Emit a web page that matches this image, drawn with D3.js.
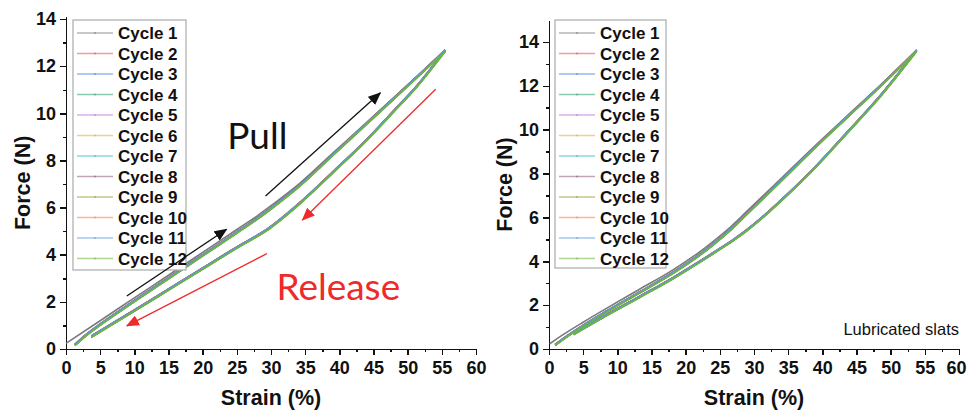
<!DOCTYPE html>
<meta charset="utf-8">
<style>
body { margin: 0; background: #fff; }
svg { font-family: "Liberation Sans", Arial, sans-serif; }
.axis path, .axis line { stroke: #111; stroke-width: 1.5; shape-rendering: crispEdges; }
.axis text { font-size: 18px; font-weight: bold; fill: #111; }
.title { font-size: 21.5px; font-weight: bold; fill: #111; text-anchor: middle; }
.legend text { font-size: 17px; font-weight: bold; fill: #111; }
.cycle { fill: none; stroke-width: 1.6; }
.note { font-family: Lato, "Open Sans", sans-serif; font-size: 37px; }
</style>
<body>
<script src="https://d3js.org/d3.v7.min.js"></script>
<script>

// ---- data ----
var cycles = ["Cycle 1","Cycle 2","Cycle 3","Cycle 4","Cycle 5","Cycle 6",
              "Cycle 7","Cycle 8","Cycle 9","Cycle 10","Cycle 11","Cycle 12"];
var cycleShift = [0, 0.03, -0.02, 0.01, 0.02, -0.01, 0, 0.03, -0.02, 0.01, 0.02, -0.03];

var xTicks = [0,5,10,15,20,25,30,35,40,45,50,55,60];
var yTicks = [0,2,4,6,8,10,12,14];

// left panel (with arrows)
var load1X_L = [0, 5, 10, 15, 20, 25, 28, 30, 34.2, 39, 44, 48, 51.3, 55.5];
var load1Y_L = [0.24, 1.2, 2.17, 3.13, 4.1, 5.07, 5.65, 6.08, 7.03, 8.3, 9.62, 10.68, 11.55, 12.66];
var loadNX_L = [1.3, 3, 5, 10, 15, 20, 25, 28, 30, 34.2, 39, 44, 48, 51.3, 55.5];
var loadNY_L = [0.17, 0.6, 1.03, 2.03, 3.0, 3.97, 4.94, 5.53, 5.96, 6.93, 8.22, 9.56, 10.63, 11.52, 12.66];
var unloadX_L = [3.7, 10, 15, 20, 25, 28, 29.4, 31.3, 34.2, 39, 44, 48, 51.3, 55.5];
var unloadY_L = [0.52, 1.63, 2.52, 3.41, 4.3, 4.8, 5.05, 5.47, 6.18, 7.48, 8.87, 10.1, 11.13, 12.66];

// right panel (lubricated slats)
var load1X_R = [0.1, 2.3, 5, 8.4, 13, 18.2, 22, 24, 26.5, 28.9, 33.8, 38.7, 43.6, 48.4, 53.8];
var load1Y_R = [0.24, 0.7, 1.22, 1.85, 2.68, 3.62, 4.42, 4.9, 5.55, 6.26, 7.72, 9.2, 10.62, 12.0, 13.6];
var loadNX_R = [0.9, 2.3, 5, 8.4, 13, 18.2, 22, 24, 26.5, 28.9, 33.8, 38.7, 43.6, 48.4, 53.8];
var loadNY_R = [0.18, 0.5, 1.06, 1.7, 2.53, 3.48, 4.28, 4.76, 5.42, 6.14, 7.62, 9.12, 10.56, 11.96, 13.6];
var unloadX_R = [3.6, 8, 13.3, 18, 22.1, 24, 27, 28.9, 31.8, 33.8, 38.7, 43.6, 48.4, 53.8];
var unloadY_R = [0.68, 1.47, 2.38, 3.2, 3.98, 4.36, 4.97, 5.4, 6.15, 6.72, 8.2, 9.85, 11.5, 13.6];

// arrows: [x1, y1, x2, y2] in strain / force units
var pullArrows = [[8.9, 2.25, 23.5, 5.08], [29.2, 6.49, 46.0, 10.87]];
var releaseArrows = [[54.1, 11.02, 34.6, 5.47], [29.4, 4.05, 8.9, 0.98]];

var colors = ["#7a7a7a","#e8474a","#3f7fd9","#2e9e6e","#c070d8","#d4b030",
              "#30b8d0","#8a5a78","#8c9a30","#f08040","#5a9ae0","#6ab83a"];

var svg = d3.select("body").append("svg")
    .attr("width", 967).attr("height", 411);

var defs = svg.append("defs");
[["headBlack","#111"],["headRed","#ee2a2a"]].forEach(function(m) {
    defs.append("marker")
        .attr("id", m[0])
        .attr("markerUnits", "userSpaceOnUse")
        .attr("markerWidth", 13).attr("markerHeight", 11)
        .attr("refX", 12).attr("refY", 5.5)
        .attr("orient", "auto")
      .append("path")
        .attr("d", "M0,0 L13,5.5 L0,11 z")
        .attr("fill", m[1]);
});

function zip(xs, ys, s) {
    return xs.map(function(x, i) { return {x: x, y: ys[i] + s}; });
}

function drawPanel(p) {
    var x = d3.scaleLinear().domain([0, 60]).range([p.left, p.right]);
    var y = d3.scaleLinear().domain([0, p.yMax]).range([349, p.top]);
    var g = svg.append("g");

    // minor ticks
    g.append("g").attr("class", "axis").attr("transform", "translate(0,349)")
        .call(d3.axisBottom(x).tickValues(d3.range(2.5, 60, 5)).tickSize(3).tickFormat(""))
        .select(".domain").remove();
    g.append("g").attr("class", "axis").attr("transform", "translate(" + p.left + ",0)")
        .call(d3.axisLeft(y).tickValues(d3.range(1, p.yMax, 2)).tickSize(3).tickFormat(""))
        .select(".domain").remove();

    // major axes
    var xa = g.append("g").attr("class", "axis").attr("transform", "translate(0,349)")
        .call(d3.axisBottom(x).tickValues(xTicks).tickSize(6).tickSizeOuter(0).tickPadding(5));
    xa.selectAll("text").attr("dy", "0.8em")
        .filter(function(d) { return d === 60; }).attr("dx", p.lastDx);
    g.append("g").attr("class", "axis").attr("transform", "translate(" + p.left + ",0)")
        .call(d3.axisLeft(y).tickValues(yTicks).tickSize(6).tickSizeOuter(0).tickPadding(4));

    g.append("text").attr("class", "title")
        .attr("x", (p.left + p.right) / 2).attr("y", 405).text("Strain (%)");
    g.append("text").attr("class", "title")
        .attr("transform", "translate(" + p.yTitleX + "," + ((349 + p.top) / 2) + ") rotate(-90)")
        .text("Force (N)");

    // curves
    var line = d3.line().x(function(d) { return x(d.x); }).y(function(d) { return y(d.y); })
        .curve(d3.curveMonotoneX);
    cycles.forEach(function(c, i) {
        var s = cycleShift[i];
        var load = i === 0 ? zip(p.load1X, p.load1Y, 0) : zip(p.loadNX, p.loadNY, s);
        g.append("path").attr("class", "cycle").attr("stroke", colors[i]).attr("d", line(load));
        g.append("path").attr("class", "cycle").attr("stroke", colors[i])
            .attr("d", line(zip(p.unloadX, p.unloadY, i === 0 ? 0.02 : s)));
    });

    // legend
    var lg = g.append("g").attr("class", "legend");
    lg.append("rect").attr("x", p.legX).attr("y", 20).attr("width", p.legW).attr("height", p.legH)
        .attr("fill", "#fff").attr("stroke", "#aaa").attr("stroke-width", 1.2);
    cycles.forEach(function(c, i) {
        var cy = 33 + i * 20.5;
        lg.append("line").attr("x1", p.legX + 4).attr("x2", p.legX + 40)
            .attr("y1", cy).attr("y2", cy)
            .attr("stroke", colors[i]).attr("stroke-opacity", 0.55).attr("stroke-width", 1.5);
        lg.append("circle").attr("cx", p.legX + 22).attr("cy", cy).attr("r", 1)
            .attr("fill", colors[i]).attr("fill-opacity", 0.6);
        lg.append("text").attr("x", p.legX + 45).attr("y", cy + 6).text(c);
    });

    return {g: g, x: x, y: y};
}

var left = drawPanel({left: 66, right: 476, top: 16.7, yMax: 14.1, yTitleX: 30, lastDx: 0,
    legX: 73, legW: 113, legH: 250,
    load1X: load1X_L, load1Y: load1Y_L, loadNX: loadNX_L, loadNY: loadNY_L,
    unloadX: unloadX_L, unloadY: unloadY_L});

var right = drawPanel({left: 549, right: 959, top: 20, yMax: 15, yTitleX: 512, lastDx: -3,
    legX: 555, legW: 111, legH: 248,
    load1X: load1X_R, load1Y: load1Y_R, loadNX: loadNX_R, loadNY: loadNY_R,
    unloadX: unloadX_R, unloadY: unloadY_R});

// annotations, left panel
pullArrows.forEach(function(a) {
    left.g.append("line")
        .attr("x1", left.x(a[0])).attr("y1", left.y(a[1]))
        .attr("x2", left.x(a[2])).attr("y2", left.y(a[3]))
        .attr("stroke", "#111").attr("stroke-width", 1.3)
        .attr("marker-end", "url(#headBlack)");
});
releaseArrows.forEach(function(a) {
    left.g.append("line")
        .attr("x1", left.x(a[0])).attr("y1", left.y(a[1]))
        .attr("x2", left.x(a[2])).attr("y2", left.y(a[3]))
        .attr("stroke", "#ee2a2a").attr("stroke-width", 1.3)
        .attr("marker-end", "url(#headRed)");
});
left.g.append("text").attr("class", "note").attr("fill", "#111")
    .attr("x", left.x(23.6)).attr("y", left.y(8.49)).text("Pull");
left.g.append("text").attr("class", "note").attr("fill", "#ee2a2a")
    .attr("x", left.x(30.8)).attr("y", left.y(2.08)).text("Release");

right.g.append("text")
    .attr("x", right.x(60)).attr("y", right.y(0.64))
    .attr("text-anchor", "end").attr("font-size", 16.5).attr("fill", "#111")
    .text("Lubricated slats");

</script>
</body>
